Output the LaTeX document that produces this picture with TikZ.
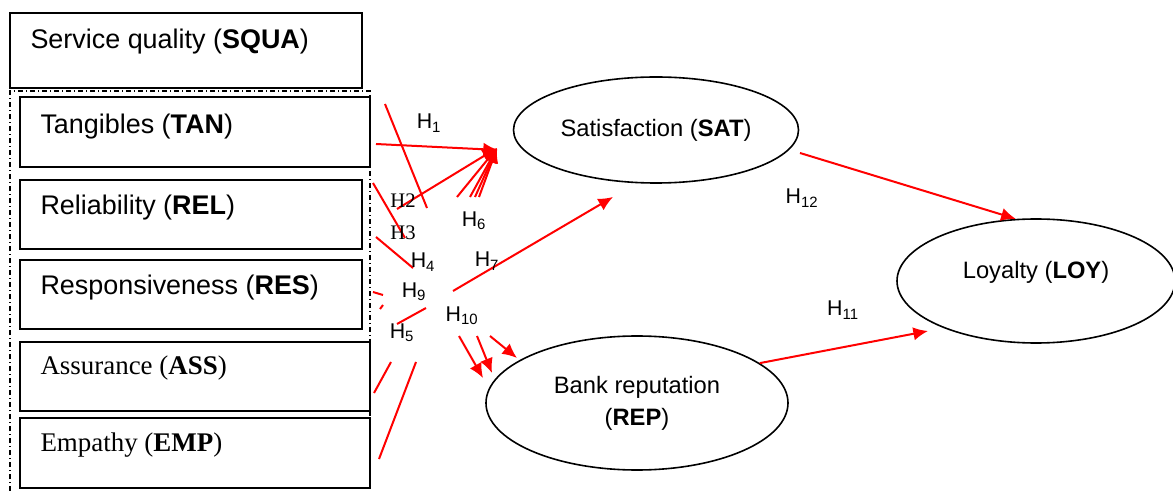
\documentclass[tikz,border=0pt]{standalone}
\usepackage{fontspec}
\setmainfont{Liberation Sans}
\newfontfamily\timesfont{Liberation Serif}
\usetikzlibrary{arrows.meta,shapes.geometric}

\tikzset{every picture/.style={line width=0.75pt}}
\tikzset{
  factorbox/.style={draw, line width=1.2pt, inner sep=0pt},
  boxtext/.style={anchor=west, inner sep=0pt, font=\fontsize{20.2}{24}\selectfont},
  construct/.style={draw, ellipse, line width=1.2pt, inner sep=0pt, align=center, font=\fontsize{17.8}{24}\selectfont},
  hyp/.style={color=red, line width=1.5pt},
  hyparrow/.style={hyp, -{Latex[length=11pt,width=10pt]}},
  hlabel/.style={inner sep=0pt, font=\fontsize{16}{18}\selectfont},
  hserif/.style={inner sep=0pt, font=\timesfont\fontsize{15.5}{17}\selectfont},
}

\begin{document}
\begin{tikzpicture}[x=0.75pt,y=0.75pt,yscale=-1,xscale=1]
	\useasboundingbox (0,0) rectangle (1173,491);

	%Shape: Rectangle [id:squa]
	\node [factorbox, minimum width=264pt, minimum height=56.25pt] (squa) at (186,50.5) {};
	%Shape: Frame [id:dimensions]
	\draw [line width=1.1pt, dash pattern=on 4pt off 2pt on 1pt off 2pt] (10,491) -- (10,91) -- (370,91) -- (370,491) ;
	%Shape: Rectangle [id:tan]
	\node [factorbox, minimum width=262.5pt, minimum height=52.5pt] (tan) at (195,132) {};
	%Shape: Rectangle [id:rel]
	\node [factorbox, minimum width=256.5pt, minimum height=51.75pt] (rel) at (191,214.5) {};
	%Shape: Rectangle [id:res]
	\node [factorbox, minimum width=256.5pt, minimum height=51.75pt] (res) at (191,294.5) {};
	%Shape: Rectangle [id:ass]
	\node [factorbox, minimum width=262.5pt, minimum height=51.75pt] (ass) at (195,376.5) {};
	%Shape: Rectangle [id:emp]
	\node [factorbox, minimum width=262.5pt, minimum height=52.5pt] (emp) at (195,453) {};

	%Shape: Ellipse [id:sat]
	\node [construct, minimum width=213.75pt, minimum height=79.5pt] (sat) at (656,130) {Satisfaction (\textbf{SAT})};
	%Shape: Ellipse [id:rep]
	\node [construct, minimum width=226.5pt, minimum height=100.5pt] (rep) at (637,403) {Bank reputation\\(\textbf{REP})};
	%Shape: Ellipse [id:loy]
	\node [construct, minimum width=208.5pt, minimum height=93pt] (loy) at (1036,281) {};

	%Arrow ends
	\coordinate (tanout) at (376,144);
	\coordinate (relout) at (397,209);
	\coordinate (h6a) at (457,197);
	\coordinate (h6b) at (470,197);
	\coordinate (h6c) at (475,197);
	\coordinate (h6d) at (479,197);
	\coordinate (sattipa) at (498,150);
	\coordinate (sattipb) at (497,148);
	\coordinate (h7out) at (453,291);
	\coordinate (sattipc) at (613,197);
	\coordinate (h10a) at (459,336);
	\coordinate (h10b) at (477,336);
	\coordinate (h10c) at (490,336);
	\coordinate (reptipa) at (483,378);
	\coordinate (reptipb) at (492,373);
	\coordinate (reptipc) at (517,358);
	\coordinate (satout) at (800,153);
	\coordinate (loytip) at (928,331);

	%Straight Lines [id:h1]
	\draw [hyparrow] (tanout) -- (sattipa) ;
	%Straight Lines [id:h2]
	\draw [hyparrow] (relout) -- (sattipb) ;
	%Straight Lines [id:h6]
	\draw [hyparrow] (h6a) -- (sattipb) ;
	\draw [hyparrow] (h6b) -- (sattipb) ;
	\draw [hyparrow] (h6c) -- (sattipb) ;
	\draw [hyparrow] (h6d) -- (sattipb) ;
	%Straight Lines [id:h7]
	\draw [hyparrow] (h7out) -- (sattipc) ;
	%Straight Lines [id:h10]
	\draw [hyparrow] (h10a) -- (reptipa) ;
	\draw [hyparrow] (h10b) -- (reptipb) ;
	\draw [hyparrow] (h10c) -- (reptipc) ;
	%Straight Lines [id:h12]
	\draw [hyparrow] (satout) -- (loy.108) ;
	%Straight Lines [id:h11]
	\draw [hyparrow] (rep.18) -- (loytip) ;

	%Straight Lines [id:pieces]
	\draw [hyp] (385,104) -- (427,208) ;
	\draw [hyp] (373,183) -- (405,238) ;
	\draw [hyp] (376,237) -- (413,268) ;
	\draw [hyp] (373,292) -- (383,295) ;
	\draw [hyp] (380,309) -- (383,305) ;
	\draw [hyp] (397,324) -- (426,308) ;
	\draw [hyp] (391,362) -- (374,393) ;
	\draw [hyp] (416,362) -- (379,459) ;

	% Text Node
	\draw (30,42) node [boxtext] (squatxt) {Service quality (\textbf{SQUA})};
	% Text Node
	\draw (40,127) node [boxtext] (tantxt) {Tangibles (\textbf{TAN})};
	% Text Node
	\draw (40,208) node [boxtext] (reltxt) {Reliability (\textbf{REL})};
	% Text Node
	\draw (40,288) node [boxtext] (restxt) {Responsiveness (\textbf{RES})};
	% Text Node
	\draw (40,368) node [boxtext, font=\timesfont\fontsize{20.2}{24}\selectfont] (asstxt) {Assurance (\textbf{ASS})};
	% Text Node
	\draw (40,445) node [boxtext, font=\timesfont\fontsize{20.2}{24}\selectfont] (emptxt) {Empathy (\textbf{EMP})};
	% Text Node
	\draw (1036,272) node [construct, draw=none] (loytxt) {Loyalty (\textbf{LOY})};

	% Text Node
	\draw (429,123) node [hlabel] (h1lbl) {H\textsubscript{1}};
	% Text Node
	\draw (403,201) node [hserif] (h2lbl) {H2};
	% Text Node
	\draw (403,233) node [hserif] (h3lbl) {H3};
	% Text Node
	\draw (423,262) node [hlabel] (h4lbl) {H\textsubscript{4}};
	% Text Node
	\draw (474,221) node [hlabel] (h6lbl) {H\textsubscript{6}};
	% Text Node
	\draw (487,261) node [hlabel] (h7lbl) {H\textsubscript{7}};
	% Text Node
	\draw (414,292) node [hlabel] (h9lbl) {H\textsubscript{9}};
	% Text Node
	\draw (462,316) node [hlabel] (h10lbl) {H\textsubscript{10}};
	% Text Node
	\draw (402,333) node [hlabel] (h5lbl) {H\textsubscript{5}};
	% Text Node
	\draw (802,198) node [hlabel] (h12lbl) {H\textsubscript{12}};
	% Text Node
	\draw (843,310) node [hlabel] (h11lbl) {H\textsubscript{11}};

\end{tikzpicture}
\end{document}
